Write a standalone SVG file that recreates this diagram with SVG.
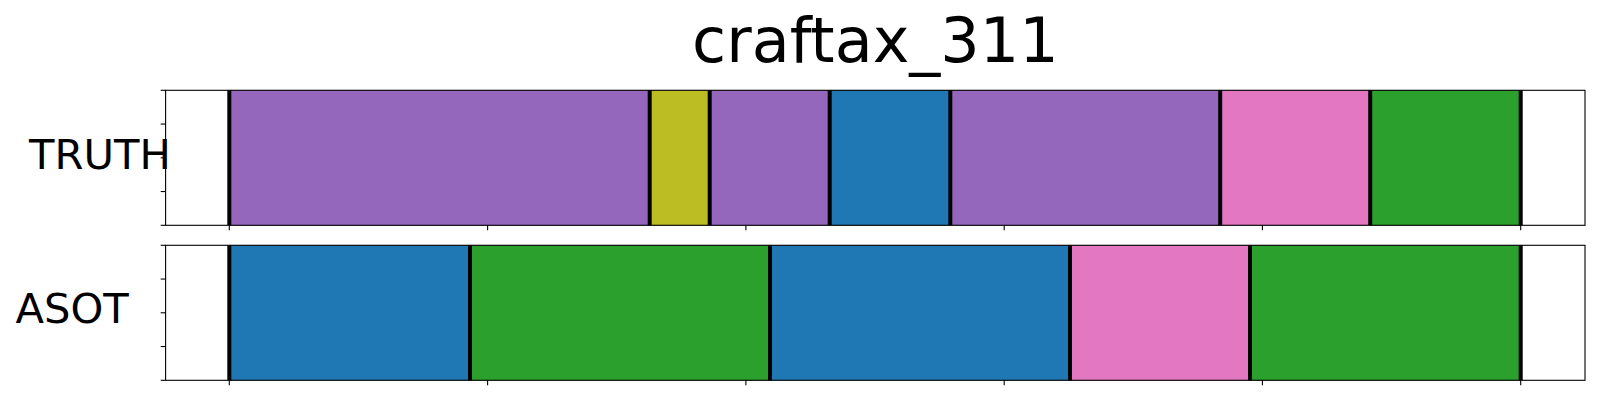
<svg xmlns="http://www.w3.org/2000/svg" width="1600" height="400" viewBox="0 0 1600 400">
<style>
.seg{stroke:#000;stroke-opacity:0.12;stroke-width:1}
.purple{fill:#9467bd}.olive{fill:#bcbd22}.blue{fill:#1f77b4}.pink{fill:#e377c2}.green{fill:#2ca02c}
.bd{stroke:#000;stroke-width:4}
.spine{fill:none;stroke:#000;stroke-width:1.1}
.tick{stroke:#000;stroke-width:1.1}
.lbl{font-family:"DejaVu Sans",sans-serif;font-size:41.7px;fill:#000}
.title{font-family:"DejaVu Sans",sans-serif;font-size:62px;fill:#000}
</style>
<rect width="1600" height="400" fill="#fff"/>
<text class="title" x="875.4" y="62.3" text-anchor="middle">craftax_311</text>
<g id="truth">
<rect class="seg purple" x="229.3" y="90.3" width="420.4" height="135"/>
<rect class="seg olive" x="649.7" y="90.3" width="60" height="135"/>
<rect class="seg purple" x="709.7" y="90.3" width="120" height="135"/>
<rect class="seg blue" x="829.7" y="90.3" width="120.6" height="135"/>
<rect class="seg purple" x="950.3" y="90.3" width="269.9" height="135"/>
<rect class="seg pink" x="1220.2" y="90.3" width="150" height="135"/>
<rect class="seg green" x="1370.2" y="90.3" width="150.5" height="135"/>
<g class="bd">
<line x1="229.3" y1="90.3" x2="229.3" y2="225.3"/>
<line x1="649.7" y1="90.3" x2="649.7" y2="225.3"/>
<line x1="709.7" y1="90.3" x2="709.7" y2="225.3"/>
<line x1="829.7" y1="90.3" x2="829.7" y2="225.3"/>
<line x1="950.3" y1="90.3" x2="950.3" y2="225.3"/>
<line x1="1220.2" y1="90.3" x2="1220.2" y2="225.3"/>
<line x1="1370.2" y1="90.3" x2="1370.2" y2="225.3"/>
<line x1="1520.7" y1="90.3" x2="1520.7" y2="225.3"/>
</g>
<rect class="spine" x="165.6" y="90.3" width="1419.4" height="135"/>
<g class="tick">
<line x1="160.7" y1="90.3" x2="165.6" y2="90.3"/>
<line x1="160.7" y1="124.05" x2="165.6" y2="124.05"/>
<line x1="160.7" y1="157.8" x2="165.6" y2="157.8"/>
<line x1="160.7" y1="191.55" x2="165.6" y2="191.55"/>
<line x1="160.7" y1="225.3" x2="165.6" y2="225.3"/>
<line x1="229.3" y1="225.3" x2="229.3" y2="230.2"/>
<line x1="487.6" y1="225.3" x2="487.6" y2="230.2"/>
<line x1="745.9" y1="225.3" x2="745.9" y2="230.2"/>
<line x1="1004.2" y1="225.3" x2="1004.2" y2="230.2"/>
<line x1="1262.4" y1="225.3" x2="1262.4" y2="230.2"/>
<line x1="1520.7" y1="225.3" x2="1520.7" y2="230.2"/>
</g>
<text class="lbl" x="29" y="169.3">TRUTH</text>
</g>
<g id="asot">
<rect class="seg blue" x="229.3" y="245.3" width="240.7" height="135"/>
<rect class="seg green" x="470" y="245.3" width="300" height="135"/>
<rect class="seg blue" x="770" y="245.3" width="300" height="135"/>
<rect class="seg pink" x="1070" y="245.3" width="180" height="135"/>
<rect class="seg green" x="1250" y="245.3" width="270.7" height="135"/>
<g class="bd">
<line x1="229.3" y1="245.3" x2="229.3" y2="380.3"/>
<line x1="470" y1="245.3" x2="470" y2="380.3"/>
<line x1="770" y1="245.3" x2="770" y2="380.3"/>
<line x1="1070" y1="245.3" x2="1070" y2="380.3"/>
<line x1="1250" y1="245.3" x2="1250" y2="380.3"/>
<line x1="1520.7" y1="245.3" x2="1520.7" y2="380.3"/>
</g>
<rect class="spine" x="165.6" y="245.3" width="1419.4" height="135"/>
<g class="tick">
<line x1="160.7" y1="245.3" x2="165.6" y2="245.3"/>
<line x1="160.7" y1="279.05" x2="165.6" y2="279.05"/>
<line x1="160.7" y1="312.8" x2="165.6" y2="312.8"/>
<line x1="160.7" y1="346.55" x2="165.6" y2="346.55"/>
<line x1="160.7" y1="380.3" x2="165.6" y2="380.3"/>
<line x1="229.3" y1="380.3" x2="229.3" y2="385.2"/>
<line x1="487.6" y1="380.3" x2="487.6" y2="385.2"/>
<line x1="745.9" y1="380.3" x2="745.9" y2="385.2"/>
<line x1="1004.2" y1="380.3" x2="1004.2" y2="385.2"/>
<line x1="1262.4" y1="380.3" x2="1262.4" y2="385.2"/>
<line x1="1520.7" y1="380.3" x2="1520.7" y2="385.2"/>
</g>
<text class="lbl" x="15.5" y="323.3">ASOT</text>
</g>
</svg>
